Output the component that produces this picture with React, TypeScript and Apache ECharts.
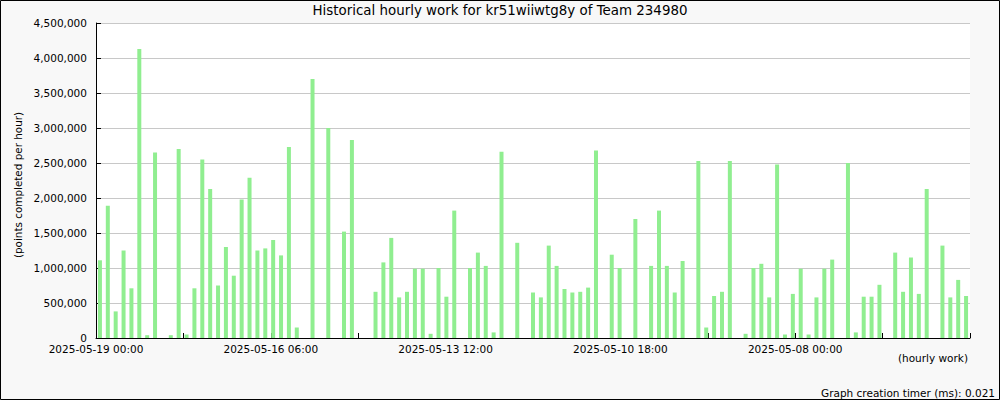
import React, { useEffect, useRef } from 'react';
import * as echarts from 'echarts';

const TITLE = 'Historical hourly work for kr51wiiwtg8y of Team 234980';
const Y_AXIS_NAME = '(points completed per hour)';
const X_AXIS_NAME = '(hourly work)';
const FOOTER = 'Graph creation timer (ms): 0.021';

// points completed in each 3-hour slot, newest (2025-05-19 00:00) first
const pointsPerSlot = [
  1110000, 1890000, 380000, 1250000, 710000, 4130000, 40000, 2650000, 0, 40000,
  2700000, 50000, 710000, 2550000, 2130000, 750000, 1300000, 890000, 1980000, 2290000,
  1250000, 1280000, 1400000, 1180000, 2730000, 150000, 0, 3700000, 0, 3000000,
  0, 1520000, 2830000, 0, 0, 660000, 1080000, 1430000, 580000, 660000,
  990000, 990000, 60000, 1000000, 590000, 1820000, 0, 1000000, 1220000, 1030000,
  80000, 2660000, 0, 1360000, 0, 650000, 580000, 1320000, 1030000, 700000,
  650000, 660000, 720000, 2680000, 0, 1190000, 1000000, 0, 1700000, 0,
  1030000, 1820000, 1030000, 650000, 1100000, 0, 2530000, 150000, 600000, 660000,
  2530000, 0, 60000, 1000000, 1060000, 580000, 2480000, 50000, 630000, 990000,
  50000, 580000, 990000, 1120000, 0, 2500000, 80000, 590000, 590000, 760000,
  0, 1220000, 660000, 1150000, 630000, 2130000, 0, 1320000, 580000, 830000,
  600000,
];

// date labels on the hour scale (hours before the newest point)
const xTickLabels = [
  '2025-05-19 00:00',
  '2025-05-16 06:00',
  '2025-05-13 12:00',
  '2025-05-10 18:00',
  '2025-05-08 00:00',
];
const HOURS_SPAN = 330;
const TICK_HOURS = 33;
const LABEL_HOURS = 66;
const SLOT_HOURS = 3;

const pad = (n: number) => String(n).padStart(2, '0');
const slotNames = pointsPerSlot.map((_, i) => {
  const d = new Date(Date.UTC(2025, 4, 19, 0, 0) - i * SLOT_HOURS * 3600000);
  return `${d.getUTCFullYear()}-${pad(d.getUTCMonth() + 1)}-${pad(d.getUTCDate())} ${pad(d.getUTCHours())}:00`;
});

const FONT = 'DejaVu Sans';

export default function App() {
  const ref = useRef<HTMLDivElement>(null);
  useEffect(() => {
    if (!ref.current) return;
    const chart = echarts.init(ref.current, null, { renderer: 'svg' });
    chart.setOption({
      animation: false,
      backgroundColor: '#f8f8f8',
      textStyle: { fontFamily: FONT },
      title: {
        text: TITLE,
        left: 'center',
        top: 4,
        padding: 0,
        textStyle: { fontFamily: FONT, fontSize: 13.4, fontWeight: 'normal', color: '#000' },
      },
      grid: {
        left: 96,
        top: 23,
        width: 874,
        height: 315,
        show: true,
        backgroundColor: '#ffffff',
        borderWidth: 0,
      },
      xAxis: [
        {
          type: 'category',
          data: slotNames,
          boundaryGap: true,
          axisLine: { show: true, lineStyle: { color: '#000', width: 1 } },
          axisTick: { show: false },
          axisLabel: { show: false },
          splitLine: { show: false },
        },
        {
          type: 'value',
          position: 'bottom',
          min: 0,
          max: HOURS_SPAN,
          interval: TICK_HOURS,
          axisLine: { show: false },
          axisTick: { show: true, inside: true, length: 5, lineStyle: { color: '#000', width: 1 } },
          axisLabel: {
            show: true,
            margin: 5,
            color: '#000',
            fontFamily: FONT,
            fontSize: 10.5,
            showMinLabel: true,
            showMaxLabel: true,
            formatter: (v: number) => {
              const k = Math.round(v);
              return k % LABEL_HOURS === 0 && xTickLabels[k / LABEL_HOURS] ? xTickLabels[k / LABEL_HOURS] : '';
            },
          },
          splitLine: { show: false },
        },
      ],
      yAxis: {
        type: 'value',
        min: 0,
        max: 4500000,
        interval: 500000,
        axisLine: { show: true, lineStyle: { color: '#000', width: 1 } },
        axisTick: { show: true, inside: true, length: 5, lineStyle: { color: '#000' } },
        axisLabel: {
          color: '#000',
          fontFamily: FONT,
          fontSize: 10.5,
          margin: 9,
          formatter: (v: number) => v.toLocaleString('en-US'),
        },
        splitLine: { show: true, lineStyle: { color: '#c8c8c8', width: 1 } },
      },
      series: [
        {
          type: 'bar',
          xAxisIndex: 0,
          data: pointsPerSlot,
          barWidth: 4,
          itemStyle: { color: '#90ee90' },
        },
      ],
      graphic: [
        {
          type: 'rect',
          shape: { x: 0.5, y: 0.5, width: 999, height: 399 },
          style: { fill: 'none', stroke: '#000', lineWidth: 1 },
          z: 100,
        },
        {
          type: 'text',
          x: 18,
          y: 185,
          rotation: Math.PI / 2,
          style: {
            text: Y_AXIS_NAME,
            fill: '#000',
            font: `10.4px "${FONT}"`,
            align: 'center',
            verticalAlign: 'middle',
          },
        },
        {
          type: 'text',
          x: 968,
          y: 358,
          style: {
            text: X_AXIS_NAME,
            fill: '#000',
            font: `10.5px "${FONT}"`,
            align: 'right',
            verticalAlign: 'middle',
          },
        },
        {
          type: 'text',
          x: 995,
          y: 393,
          style: {
            text: FOOTER,
            fill: '#000',
            font: `10.5px "${FONT}"`,
            align: 'right',
            verticalAlign: 'middle',
          },
        },
      ],
    });
    return () => chart.dispose();
  }, []);
  return (
    <div
      ref={ref}
      style={{ position: 'absolute', left: 0, top: 0, width: 1000, height: 400 }}
    />
  );
}
